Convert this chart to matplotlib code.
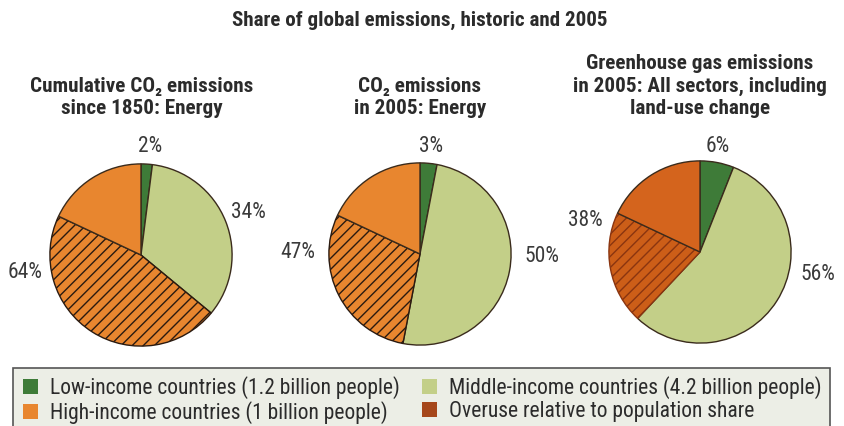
import matplotlib.pyplot as plt
from matplotlib import font_manager
from matplotlib.patches import Patch, Rectangle

installed = {f.name for f in font_manager.fontManager.ttflist}
condensed = [f for f in ['Liberation Sans Narrow', 'Roboto Condensed', 'DejaVu Sans Condensed']
             if f in installed]
plt.rcParams['font.family'] = condensed + ['Roboto', 'DejaVu Sans']
plt.rcParams['hatch.linewidth'] = 1.0

# data (shares in %)
titles = ['Cumulative CO₂ emissions\nsince 1850: Energy',
          'CO₂ emissions\nin 2005: Energy',
          'Greenhouse gas emissions\nin 2005: All sectors, including\nland-use change']
low = [2, 3, 6]
middle = [34, 50, 56]
high = [64, 47, 38]
high_popshare = [18, 18, 18]   # plain part of high-income slice
overuse = [h - p for h, p in zip(high, high_popshare)]
legend_labels = ['Low-income countries (1.2 billion people)',
                 'High-income countries (1 billion people)',
                 'Middle-income countries (4.2 billion people)',
                 'Overuse relative to population share']

c_low = '#3e7b38'
c_mid = '#c3cf88'
c_high = ['#e8862f', '#e8862f', '#d4641d']
c_over = ['#e8862f', '#e8862f', '#cc5e18']
edge = '#3a2b1c'

W, H = 845, 426
fig = plt.figure(figsize=(W / 100, H / 100), dpi=100)

centers = [(141, 255), (420, 254), (700, 252)]
R = 92
title_x = [142, 420, 700]
title_mid = [98, 98, 86]
# label positions (px) for low / middle / high
lab_pos = [[(150, 146), (248, 212), (25, 273)],
           [(431, 146), (542, 256), (298, 252)],
           [(718, 146), (818, 275), (585, 220)]]

for i in range(3):
    cx, cy = centers[i]
    ax = fig.add_axes([(cx - R) / W, (H - cy - R) / H, 2 * R / W, 2 * R / H])
    vals = [low[i], middle[i], overuse[i], high_popshare[i]]
    wedges, _ = ax.pie(vals, startangle=90, counterclock=False,
                       colors=[c_low, c_mid, c_over[i], c_high[i]],
                       wedgeprops=dict(edgecolor=edge, linewidth=1.0))
    wedges[2].set_hatch('///')
    wedges[2].set_edgecolor('#2a1a10' if i < 2 else '#8a3510')
    ax.set_xlim(-1.01, 1.01)
    ax.set_ylim(-1.01, 1.01)
    ax.set_aspect('equal')
    ax.axis('off')

    fig.text(title_x[i] / W, 1 - title_mid[i] / H, titles[i], ha='center', va='center',
             fontsize=15.2, fontweight='bold', color='#2b2b2b', linespacing=1.2)
    for v, (lx, ly) in zip([low[i], middle[i], high[i]], lab_pos[i]):
        fig.text(lx / W, 1 - ly / H, f'{v}%', ha='center', va='center',
                 fontsize=15.5, color='#3a3a3a')

fig.text(420 / W, 1 - 20 / H, 'Share of global emissions, historic and 2005', ha='center',
         va='center', fontsize=15.1, fontweight='bold', color='#2b2b2b')

# legend box
fig.patches.append(Rectangle((13 / W, -0.01), 817 / W, (H - 368) / H + 0.01,
                             transform=fig.transFigure,
                             facecolor='#eceee6', edgecolor='#555555', linewidth=1.2))
handles = [Patch(facecolor=c_low), Patch(facecolor='#e8862f'),
           Patch(facecolor=c_mid), Patch(facecolor='#a6471b')]
fig.legend(handles, legend_labels, ncol=2, loc='upper left',
           bbox_to_anchor=(23 / W, 1 - 376 / H), frameon=False, fontsize=15.5,
           handlelength=0.7, handleheight=0.7, handletextpad=0.55, columnspacing=1.05,
           labelspacing=0.1, borderpad=0, borderaxespad=0, labelcolor='#2b2b2b')

fig.savefig('out.png', dpi=100, facecolor='white')
